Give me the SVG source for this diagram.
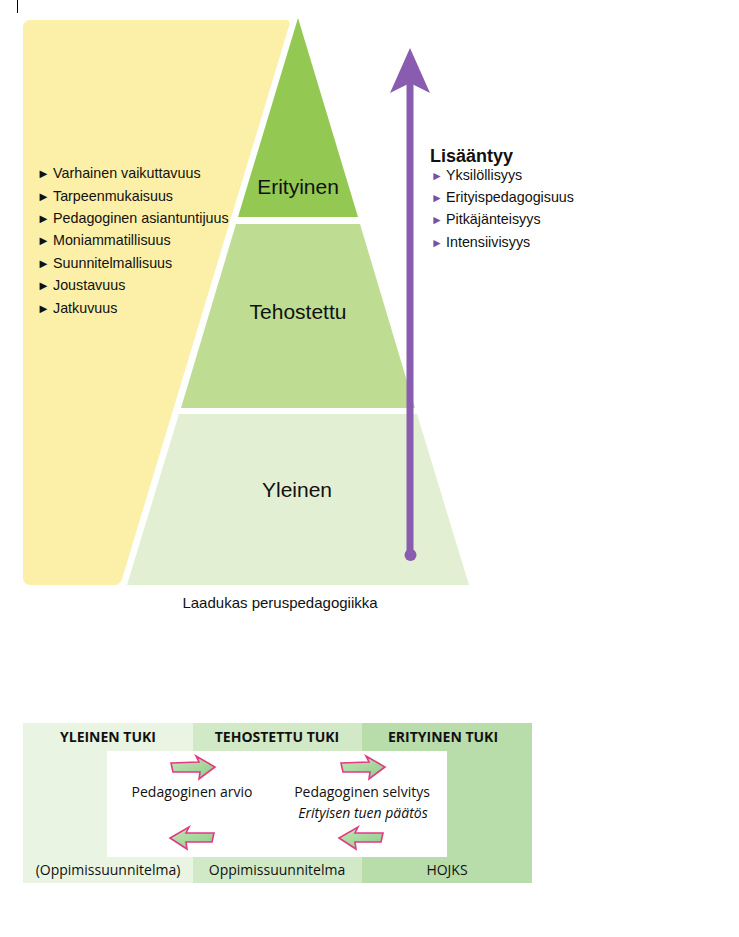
<svg xmlns="http://www.w3.org/2000/svg" width="739" height="937" viewBox="0 0 739 937">
<defs>
<style>
.l{font-family:"Liberation Sans",Arial,sans-serif;font-size:14.3px;fill:#111}
.b{font-size:13px}
.pb{font-size:12px;fill:#7B4FA6}
.pl{font-family:"Liberation Sans",Arial,sans-serif;font-size:21px;fill:#111;text-anchor:middle}
.h{font-family:"Open Sans","Noto Sans",sans-serif;font-size:14px;font-weight:bold;fill:#111;text-anchor:middle}
.t{font-family:"Open Sans","Noto Sans",sans-serif;font-size:14px;fill:#111;text-anchor:middle}
.ar{fill:url(#ag);stroke:#E03A84;stroke-width:1.6;stroke-linejoin:miter}
</style>
<linearGradient id="ag" x1="0" y1="0" x2="1" y2="1">
<stop offset="0" stop-color="#C4E6B4"/>
<stop offset="1" stop-color="#8FCB8C"/>
</linearGradient>
</defs>
<rect width="739" height="937" fill="#fff"/>
<line x1="17.5" y1="0" x2="17.5" y2="13" stroke="#000" stroke-width="1"/>

<g id="quality-panel">
<path d="M31,20 H285 Q291,20 289,26 L122,579 Q120,585 114,585 H31 Q23,585 23,577 V28 Q23,20 31,20 Z" fill="#FCEFA7"/>
<text class="l"><tspan class="b" x="37" y="178">►</tspan><tspan x="53" y="178">Varhainen vaikuttavuus</tspan></text>
<text class="l"><tspan class="b" x="37" y="201">►</tspan><tspan x="53" y="201">Tarpeenmukaisuus</tspan></text>
<text class="l"><tspan class="b" x="37" y="223">►</tspan><tspan x="53" y="223">Pedagoginen asiantuntijuus</tspan></text>
<text class="l"><tspan class="b" x="37" y="245">►</tspan><tspan x="53" y="245">Moniammatillisuus</tspan></text>
<text class="l"><tspan class="b" x="37" y="268">►</tspan><tspan x="53" y="268">Suunnitelmallisuus</tspan></text>
<text class="l"><tspan class="b" x="37" y="290">►</tspan><tspan x="53" y="290">Joustavuus</tspan></text>
<text class="l"><tspan class="b" x="37" y="313">►</tspan><tspan x="53" y="313">Jatkuvuus</tspan></text>
</g>

<g id="level-erityinen">
<polygon points="298,18 358,217 238,217" fill="#93C852"/>
<text class="pl" x="298" y="194">Erityinen</text>
</g>
<g id="level-tehostettu">
<polygon points="236,224 360,224 415,408 181,408" fill="#BEDD92"/>
<text class="pl" x="298" y="319">Tehostettu</text>
</g>
<g id="level-yleinen">
<polygon points="179,414 417,414 469,585 127,585" fill="#E3EFD2"/>
<text class="pl" x="297" y="497">Yleinen</text>
</g>
<text id="base-label" x="280" y="608" font-family="Liberation Sans, Arial, sans-serif" font-size="15" fill="#111" text-anchor="middle">Laadukas peruspedagogiikka</text>

<g id="increase-list">
<text x="430" y="162" font-family="Liberation Sans, Arial, sans-serif" font-size="18" font-weight="bold" fill="#111">Lisääntyy</text>
<text class="l"><tspan class="pb" x="431" y="180">►</tspan><tspan x="446" y="180">Yksilöllisyys</tspan></text>
<text class="l"><tspan class="pb" x="431" y="202">►</tspan><tspan x="446" y="202">Erityispedagogisuus</tspan></text>
<text class="l"><tspan class="pb" x="431" y="224">►</tspan><tspan x="446" y="224">Pitkäjänteisyys</tspan></text>
<text class="l"><tspan class="pb" x="431" y="247">►</tspan><tspan x="446" y="247">Intensiivisyys</tspan></text>
</g>

<g id="support-table">
<rect x="23" y="723" width="170" height="160" fill="#E9F4E2"/>
<rect x="193" y="723" width="169" height="160" fill="#D2E9C8"/>
<rect x="362" y="723" width="170" height="160" fill="#B9DCAB"/>
<rect x="107" y="751" width="340" height="106" fill="#fff"/>
<text class="h" x="108" y="742">YLEINEN TUKI</text>
<text class="h" x="277" y="742">TEHOSTETTU TUKI</text>
<text class="h" x="443" y="742">ERITYINEN TUKI</text>
<text class="t" x="192" y="797">Pedagoginen arvio</text>
<text class="t" x="362" y="797">Pedagoginen selvitys</text>
<text class="t" x="363" y="818" font-style="italic">Erityisen tuen päätös</text>
<text class="t" x="108" y="875">(Oppimissuunnitelma)</text>
<text class="t" x="277" y="875">Oppimissuunnitelma</text>
<text class="t" x="447" y="875">HOJKS</text>
</g>

<g id="connectors">
<g id="increase-arrow" fill="#8A5CAF">
<rect x="406.5" y="80" width="7" height="475"/>
<polygon points="410,48 430,93 410,83 390,93"/>
<circle cx="410.5" cy="555" r="6"/>
</g>
<polygon class="ar" points="171,763 199,762 196,756 215,767 199,779 200,772 173,772"/>
<polygon class="ar" points="341,763 369,762 366,756 385,767 369,779 370,772 343,772"/>
<polygon class="ar" points="214,833 186,833 189,827 170,838 187,849 186,842 212,842"/>
<polygon class="ar" points="383,833 355,833 358,827 339,838 356,849 355,842 381,842"/>
</g>
</svg>
